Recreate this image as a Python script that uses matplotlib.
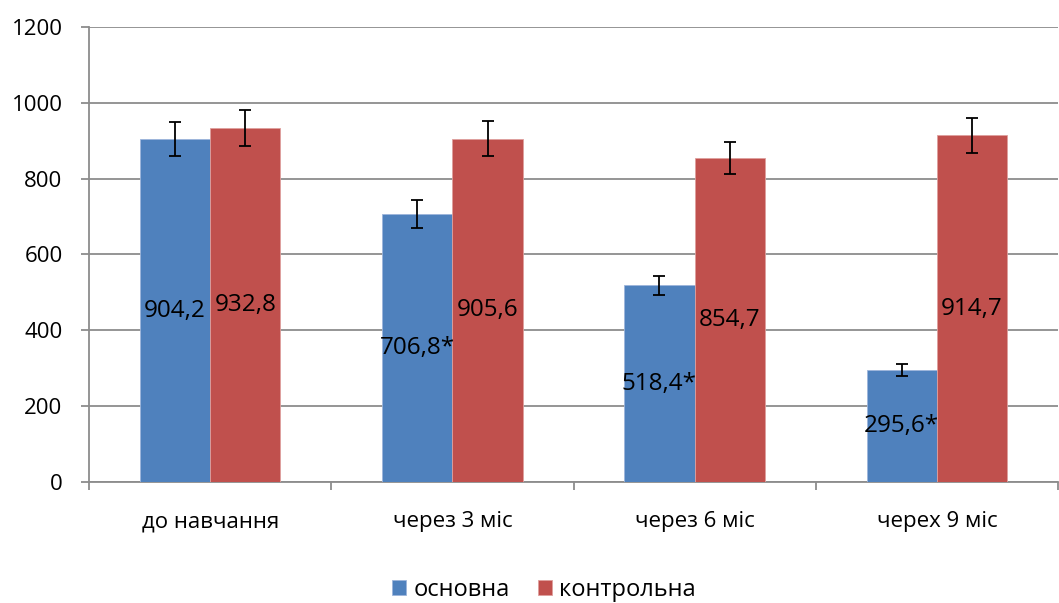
import numpy as np
import matplotlib
matplotlib.use("Agg")
import matplotlib.pyplot as plt

plt.rcParams['font.family'] = ['Open Sans', 'DejaVu Sans']

categories = ["до навчання", "через 3 міс", "через 6 міс", "черех 9 міс"]
osnovna = [904.2, 706.8, 518.4, 295.6]
kontrolna = [932.8, 905.6, 854.7, 914.7]
osnovna_err = [45, 36, 26, 15]
kontrolna_err = [47, 46, 43, 46]
osnovna_labels = ["904,2", "706,8*", "518,4*", "295,6*"]
kontrolna_labels = ["932,8", "905,6", "854,7", "914,7"]

blue = '#4F81BD'
red = '#C0504D'
grid_c = '#8C8C8C'

fig = plt.figure(figsize=(10.59, 6.03), dpi=100)
ax = fig.add_axes([89/1059, 1 - 482/603, 969/1059, (482-27)/603])

x = np.arange(len(categories))
w = 0.29
b1 = ax.bar(x - w/2, osnovna, w, color=blue, edgecolor='#9DB5DB', linewidth=0.6,
            yerr=osnovna_err, capsize=4.3, error_kw=dict(ecolor='black', elinewidth=1.3, capthick=1.3),
            label='основна', zorder=3)
b2 = ax.bar(x + w/2, kontrolna, w, color=red, edgecolor='#DE9F9D', linewidth=0.6,
            yerr=kontrolna_err, capsize=4.3, error_kw=dict(ecolor='black', elinewidth=1.3, capthick=1.3),
            label='контрольна', zorder=3)

for xi, v, t in zip(x, osnovna, osnovna_labels):
    ax.text(xi - w/2, v/2, t, ha='center', va='center', fontsize=17.5, zorder=5)
for xi, v, t in zip(x, kontrolna, kontrolna_labels):
    ax.text(xi + w/2, v/2, t, ha='center', va='center', fontsize=17.5, zorder=5)

ax.set_ylim(0, 1200)
ax.set_xlim(-0.5, 3.5)
ax.set_yticks(np.arange(0, 1201, 200))
ax.yaxis.grid(True, color=grid_c, linewidth=1.3, zorder=0)
ax.set_axisbelow(True)

ax.set_xticks(x)
ax.set_xticklabels(categories, fontsize=16)
ax.set_xticks(np.arange(-0.5, 3.6, 1), minor=True)
ax.tick_params(axis='x', which='major', length=0, pad=21)
ax.tick_params(axis='x', which='minor', length=6, color=grid_c, width=1.3)
ax.tick_params(axis='y', labelsize=16, length=6, color=grid_c, width=1.3, pad=13, direction='out')

for s in ['top', 'right']:
    ax.spines[s].set_visible(False)
for s in ['left', 'bottom']:
    ax.spines[s].set_color(grid_c)
    ax.spines[s].set_linewidth(1.3)

leg = fig.legend(handles=[b1, b2], loc='center', bbox_to_anchor=(544/1059, 1 - 590/603), ncol=2,
                 frameon=False, fontsize=17, handlelength=0.6, handleheight=0.6,
                 handletextpad=0.3, columnspacing=1.2)

fig.savefig('out.png', dpi=100)
